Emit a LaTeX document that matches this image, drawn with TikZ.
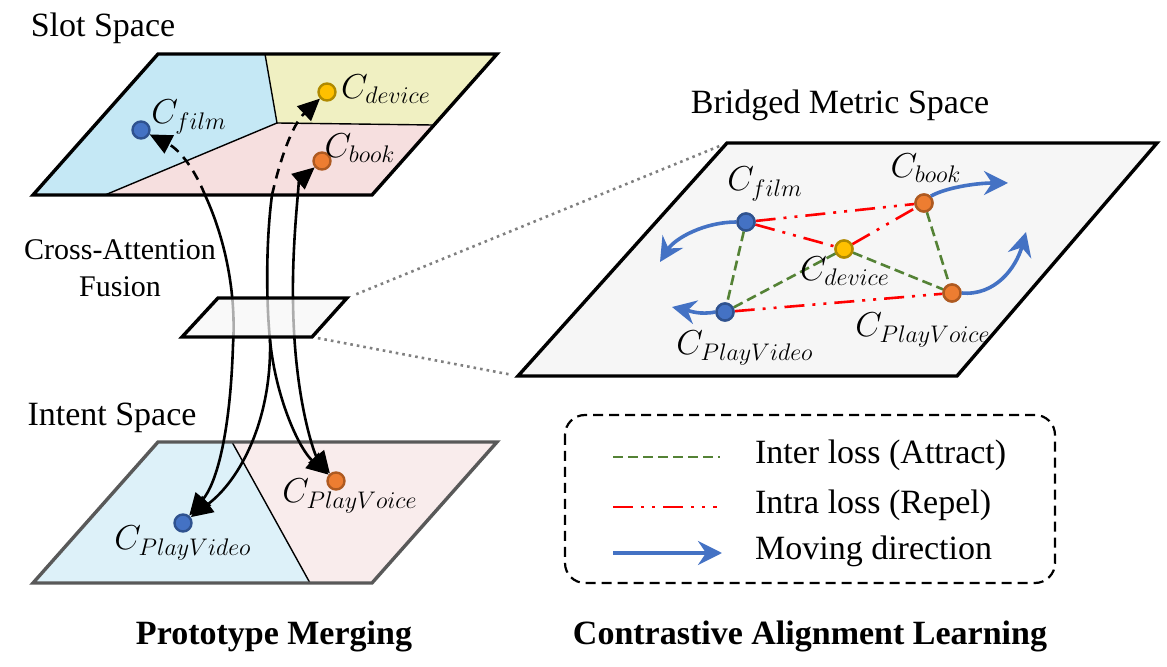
\documentclass[tikz,border=0pt]{standalone}
\usepackage{fontspec}
\setmainfont{Liberation Serif}
\usetikzlibrary{arrows.meta}

\definecolor{protoblue}{HTML}{4472C4}
\definecolor{protoblueb}{HTML}{2F528F}
\definecolor{protoorange}{HTML}{ED7D31}
\definecolor{protoorangeb}{HTML}{AE5A21}
\definecolor{protoyellow}{HTML}{FFC000}
\definecolor{protoyellowb}{HTML}{B08A00}
\definecolor{slotblue}{HTML}{C5E8F5}
\definecolor{slotyellow}{HTML}{F0F0C2}
\definecolor{slotpink}{HTML}{F6DFDF}
\definecolor{intentblue}{HTML}{DDF1F9}
\definecolor{intentpink}{HTML}{F9ECEC}
\definecolor{intentgray}{HTML}{595959}
\definecolor{intergreen}{HTML}{548235}
\definecolor{spacegray}{HTML}{F6F6F6}

\begin{document}
\begin{tikzpicture}[x=0.5pt,y=-0.5pt,
    dot/.style={circle,inner sep=0pt,minimum size=8.5pt,line width=1.2pt},
    filmdot/.style={dot,fill=protoblue,draw=protoblueb},
    bookdot/.style={dot,fill=protoorange,draw=protoorangeb},
    devicedot/.style={dot,fill=protoyellow,draw=protoyellowb},
    proto/.style={font=\fontsize{16.5}{19}\selectfont},
    spacetitle/.style={font=\fontsize{17}{20}\selectfont},
    paneltitle/.style={font=\fontsize{17}{20}\selectfont\bfseries},
    merge/.style={line width=1.3pt,-{Triangle[length=11pt,width=10pt]}},
    twoway/.style={line width=1.3pt,{Triangle[length=11pt,width=10pt]}-{Triangle[length=11pt,width=10pt]}},
    hidden/.style={dash pattern=on 5pt off 3.5pt},
    attract/.style={draw=intergreen,line width=1.3pt,dash pattern=on 5pt off 2.5pt},
    repel/.style={draw=red,line width=1.3pt,dash pattern=on 10pt off 4pt on 1.5pt off 4pt on 1.5pt off 4pt},
    move/.style={draw=protoblue,line width=1.8pt,-{Stealth[length=12pt,width=12pt,inset=4pt]}}]

    \useasboundingbox (0,0) rectangle (1167,667);

    \fill[slotblue] (158,54) -- (265,54) -- (277,123) -- (105,195) -- (33,195) -- cycle;
    \fill[slotyellow] (265,54) -- (497,54) -- (432,125) -- (277,123) -- cycle;
    \fill[slotpink] (277,123) -- (432,125) -- (372,195) -- (105,195) -- cycle;
    \draw[line width=0.7pt] (265,54) -- (277,123) -- (105,195);
    \draw[line width=0.7pt] (277,123) -- (432,125);
    \draw[line width=1.7pt] (158,54) -- (497,54) -- (372,195) -- (33,195) -- cycle;

    \fill[intentblue] (158,442) -- (232,442) -- (310,583) -- (33,583) -- cycle;
    \fill[intentpink] (232,442) -- (497,442) -- (372,583) -- (310,583) -- cycle;
    \draw[line width=0.7pt] (232,442) -- (310,583);
    \draw[line width=1.7pt,intentgray] (158,442) -- (497,442) -- (372,583) -- (33,583) -- cycle;

    \node[filmdot] (sfilm) at (141,130) {};
    \node[devicedot] (sdevice) at (327,92) {};
    \node[bookdot] (sbook) at (322,161) {};
    \node[filmdot] (iplayvideo) at (183,523) {};
    \node[bookdot] (iplayvoice) at (336,481) {};

    \coordinate (xfilm) at (205,195);
    \coordinate (xdevice) at (272,195);
    \coordinate (xsplit) at (270,340);

    \draw[merge,hidden] (xfilm) .. controls (195,170) and (180,150) .. (sfilm);
    \draw[merge] (xfilm) .. controls (228,245) and (236,300) .. (233,345) .. controls (230,440) and (215,485) .. (iplayvideo);
    \draw[merge,hidden] (xdevice) .. controls (280,160) and (292,125) .. (sdevice);
    \draw[line width=1.3pt] (xdevice) .. controls (266,240) and (266,300) .. (xsplit);
    \draw[merge] (xsplit) .. controls (272,420) and (240,480) .. (iplayvideo);
    \draw[merge] (xsplit) .. controls (276,400) and (300,450) .. (iplayvoice);
    \draw[twoway] (sbook) .. controls (300,180) and (292,240) .. (293,300) .. controls (294,400) and (315,455) .. (iplayvoice);

    \coordinate (f1) at (218,298);
    \coordinate (f2) at (347,298);
    \coordinate (f3) at (312,337);
    \coordinate (f4) at (182,337);
    \fill[spacegray,fill opacity=0.7] (f1) -- (f2) -- (f3) -- (f4) -- cycle;
    \draw[line width=1.7pt] (f1) -- (f2) -- (f3) -- (f4) -- cycle;

    \coordinate (b1) at (727,143);
    \coordinate (b2) at (1157,143);
    \coordinate (b3) at (957,376);
    \coordinate (b4) at (518,376);
    \filldraw[fill=spacegray,line width=1.7pt] (b1) -- (b2) -- (b3) -- (b4) -- cycle;

    \draw[gray,line width=1.3pt,dotted,shorten <=5pt,shorten >=4pt] (f2) -- (b1);
    \draw[gray,line width=1.3pt,dotted,shorten <=3pt,shorten >=4pt] (f3) -- (b4);

    \node[proto] at (189,117) {$C_{film}$};
    \node[proto] at (386,89) {$C_{device}$};
    \node[proto] at (360,148) {$C_{book}$};
    \node[proto] at (183,543) {$C_{PlayVideo}$};
    \node[proto] at (350,496) {$C_{PlayVoice}$};

    \node[spacetitle] at (103,28) {Slot Space};
    \node[spacetitle] at (112,418) {Intent Space};
    \node[spacetitle,font=\fontsize{15}{18.5}\selectfont,align=center] at (120,268) {Cross-Attention\\Fusion};
    \node[spacetitle] at (840,105) {Bridged Metric Space};

    \node[filmdot] (bfilm) at (746,222) {};
    \node[bookdot] (bbook) at (924,203) {};
    \node[devicedot] (bdevice) at (844,249) {};
    \node[bookdot] (bplayvoice) at (952,293) {};
    \node[filmdot] (bplayvideo) at (725,312) {};

    \draw[repel] (bfilm) -- (bbook);
    \draw[repel] (bfilm) -- (bdevice);
    \draw[repel] (bdevice) -- (bbook);
    \draw[repel] (bplayvideo) -- (bplayvoice);
    \draw[attract] (bfilm) -- (bplayvideo);
    \draw[attract] (bdevice) -- (bplayvideo);
    \draw[attract] (bdevice) -- (bplayvoice);
    \draw[attract] (bbook) -- (bplayvoice);

    \node[filmdot] at (bfilm) {};
    \node[bookdot] at (bbook) {};
    \node[devicedot] at (bdevice) {};
    \node[bookdot] at (bplayvoice) {};
    \node[filmdot] at (bplayvideo) {};

    \coordinate (mfilm) at (660,262);
    \coordinate (mplayvideo) at (672,307);
    \coordinate (mbook) at (1008,183);
    \coordinate (mplayvoice) at (1026,232);
    \draw[move] (bfilm.west) .. controls (705,222) and (675,238) .. (mfilm);
    \draw[move] (bplayvideo.west) .. controls (700,315) and (690,311) .. (mplayvideo);
    \draw[move] (bbook.north east) .. controls (945,188) and (975,183) .. (mbook);
    \draw[move] (bplayvoice.east) .. controls (995,296) and (1016,268) .. (mplayvoice);

    \node[proto] at (765,184) {$C_{film}$};
    \node[proto] at (926,168) {$C_{book}$};
    \node[proto] at (845,271) {$C_{device}$};
    \node[proto] at (923,330) {$C_{PlayVoice}$};
    \node[proto] at (745,348) {$C_{PlayVideo}$};

    \draw[line width=1.1pt,dash pattern=on 5pt off 3pt,rounded corners=10pt] (565,415) rectangle (1055,583);
    \coordinate (l1) at (613,457);
    \coordinate (l1e) at (720,457);
    \coordinate (l2) at (613,507);
    \coordinate (l2e) at (717,507);
    \coordinate (l3) at (613,553);
    \coordinate (l3e) at (722,553);
    \draw[attract] (l1) -- (l1e);
    \draw[repel] (l2) -- (l2e);
    \draw[move] (l3) -- (l3e);
    \node[spacetitle,anchor=west] at (748,455) {Inter loss (Attract)};
    \node[spacetitle,anchor=west] at (748,505) {Intra loss (Repel)};
    \node[spacetitle,anchor=west] at (748,551) {Moving direction};

    \node[paneltitle] at (274,636) {Prototype Merging};
    \node[paneltitle] at (810,636) {Contrastive Alignment Learning};

\end{tikzpicture}
\end{document}
